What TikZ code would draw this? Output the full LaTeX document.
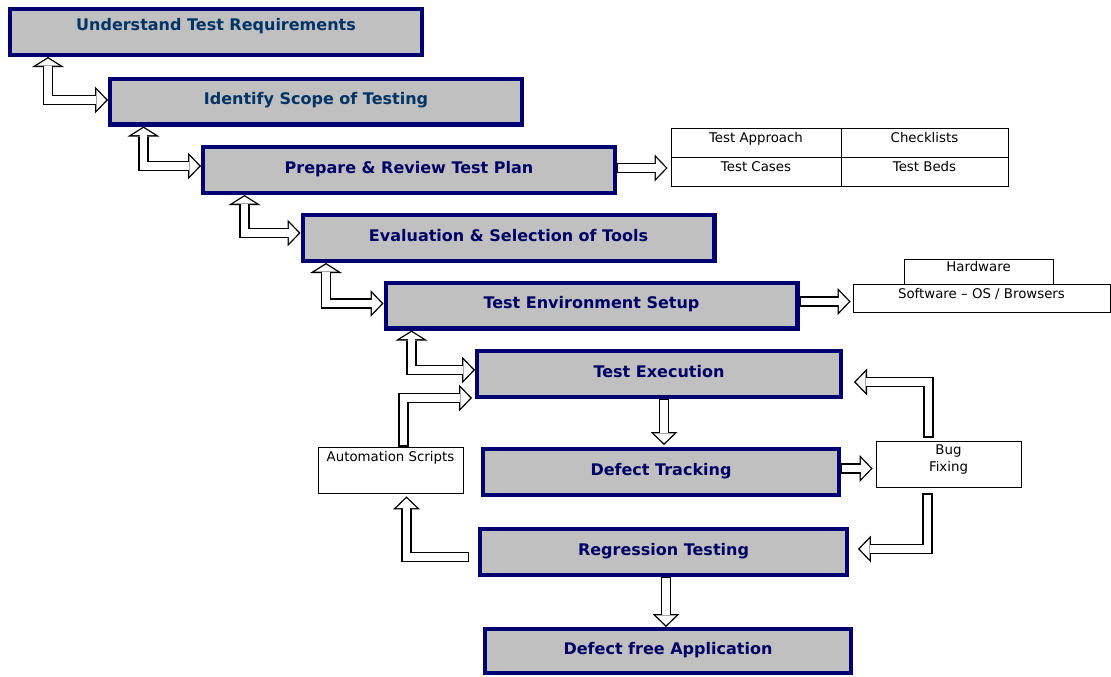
\documentclass[tikz,border=0pt]{standalone}
\usepackage{fontspec}
\setmainfont{DejaVu Sans}
\usetikzlibrary{arrows.meta,calc}

\definecolor{stageline}{RGB}{0,0,112}
\definecolor{stagefill}{RGB}{192,192,192}
\definecolor{stagetext}{RGB}{0,0,102}
\definecolor{toptext}{RGB}{0,51,102}

% hollow block arrow: black rim first, white core on top
\newcommand{\hollowarrow}[2]{\draw[#1rim] #2; \draw[#1core] #2;}

\begin{document}
\begin{tikzpicture}[x=0.75pt,y=0.75pt,yscale=-1,xscale=1,
  stage/.style={draw=stageline, line width=3.2pt, fill=stagefill, text=stagetext, font=\bfseries\fontsize{12}{14}\selectfont, inner sep=0pt, minimum width=308.8pt, minimum height=34.3pt, text height=9pt, text depth=4.5pt},
  note/.style={draw=black, line width=0.6pt, fill=white, font=\fontsize{10}{12.5}\selectfont, inner sep=0pt},
  cell/.style={text height=7.5pt, text depth=7.5pt},
  onerim/.style={draw=black, line width=7.8pt, line join=miter, -{Triangle[length=9.75pt,width=20.25pt,line width=0pt]}},
  onecore/.style={draw=white, line width=5.8pt, line join=miter, -{Triangle[length=7.36pt,width=15.3pt,line width=0pt]}, shorten <=1pt, shorten >=1.39pt},
  tworim/.style={draw=black, line width=7.8pt, line join=miter, {Triangle[length=7.5pt,width=24pt,line width=0pt]}-{Triangle[length=9.75pt,width=20.25pt,line width=0pt]}},
  twocore/.style={draw=white, line width=5.8pt, line join=miter, {Triangle[length=5.32pt,width=17pt,line width=0pt]}-{Triangle[length=7.36pt,width=15.3pt,line width=0pt]}, shorten <=1.18pt, shorten >=1.39pt}]
\useasboundingbox[fill=white] (0,0) rectangle (1111,676);

%Shape: Rectangle [stages]
\node[stage, text=toptext, text depth=11pt] (req) at (216,32) {Understand Test Requirements};
\node[stage, text=toptext] (scope) at (316,101.5) {Identify Scope of Testing};
\node[stage] (plan) at (409,170) {Prepare \& Review Test Plan};
\node[stage] (tools) at (508.5,238) {Evaluation \& Selection of Tools};
\node[stage] (env) at (591.5,305.5) {Test Environment Setup};
\node[stage, minimum width=272.8pt] (exec) at (659,374) {Test Execution};
\node[stage, minimum width=266.8pt] (track) at (661,472) {Defect Tracking};
\node[stage, minimum width=275pt] (regr) at (663.5,552) {Regression Testing};
\node[stage, minimum width=274.3pt, minimum height=32.8pt] (free) at (668,651) {Defect free Application};

%Shape: Rectangle [side notes]
\node[note, cell, minimum width=127.5pt, minimum height=21.75pt] (appr) at (756,142.5) {Test Approach};
\node[note, cell, minimum width=125.25pt, minimum height=21.75pt] (check) at (924.5,142.5) {Checklists};
\node[note, cell, minimum width=127.5pt, minimum height=21.75pt] (cases) at (756,171.5) {Test Cases};
\node[note, cell, minimum width=125.25pt, minimum height=21.75pt] (beds) at (924.5,171.5) {Test Beds};
\node[note, cell, minimum width=111.75pt, minimum height=18.75pt] (hard) at (978.5,271.5) {Hardware};
\node[note, cell, minimum width=192.75pt, minimum height=21pt] (soft) at (981.5,298) {Software -- OS / Browsers};
\node[note, minimum width=108.75pt, minimum height=34.5pt, text height=7.5pt, text depth=19.7pt] (auto) at (390.5,470) {Automation Scripts};
\node[note, minimum width=108.75pt, minimum height=34.5pt, align=center, font=\fontsize{10}{13}\selectfont] (bug) at (948.5,464) {Bug\\Fixing\\[-4pt]};

%Straight Lines [stage to stage]
\hollowarrow{two}{($(req.south west)+(40,0)$) |- ($(scope.west)+(0,-1.5)$)}
\hollowarrow{two}{($(scope.south west)+(35.5,0)$) |- ($(plan.west)+(0,-4)$)}
\hollowarrow{two}{($(plan.south west)+(43.5,0)$) |- ($(tools.west)+(0,-5)$)}
\hollowarrow{two}{($(tools.south west)+(25.5,0)$) |- ($(env.west)+(0,-2)$)}
\hollowarrow{two}{($(env.south west)+(28,0)$) |- ($(exec.west)+(0,-4)$)}
%Straight Lines [to notes]
\hollowarrow{one}{($(plan.east)+(0,-2)$) -- ($(plan.east -| cases.west)+(-3,-2)$)}
\hollowarrow{one}{($(env.east)+(0,-4)$) -- ($(env.east -| soft.west)+(-2,-4)$)}
%Straight Lines [test loop]
\hollowarrow{one}{($(exec.south)+(5,0)$) -- ($(track.north -| exec.south)+(5,-2)$)}
\hollowarrow{one}{($(track.east)+(0,-3.5)$) -- ($(track.east -| bug.west)+(-3,-3.5)$)}
\hollowarrow{one}{($(bug.north)+(-20,-3)$) |- ($(exec.east)+(11,8)$)}
\hollowarrow{one}{($(bug.south)+(-21,6)$) |- ($(regr.east)+(9,-3)$)}
\hollowarrow{one}{($(regr.west)+(-9,5)$) -| ($(auto.south)+(16,3)$)}
\hollowarrow{one}{($(auto.north)+(13,0)$) |- ($(exec.west)+(-3,24)$)}
\hollowarrow{one}{($(regr.south)+(2.5,0)$) -- ($(free.north -| regr.south)+(2.5,0)$)}

\end{tikzpicture}
\end{document}
